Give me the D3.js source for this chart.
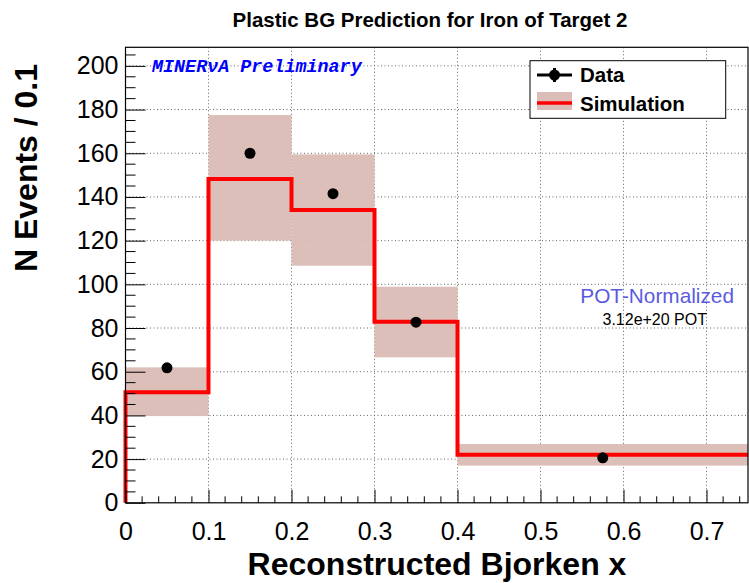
<!DOCTYPE html>
<html>
<head>
<meta charset="utf-8">
<script src="https://cdn.jsdelivr.net/npm/d3@7"></script>
<style>
  html, body { margin: 0; padding: 0; background: #fff; }
  svg { display: block; font-family: "Liberation Sans", Arial, Helvetica, sans-serif; }
</style>
</head>
<body>
<svg id="chart" width="749" height="583"></svg>
<script>
// Bin edges of reconstructed Bjorken x
const binEdges = [0, 0.1, 0.2, 0.3, 0.4, 0.75];
// Data: event counts per bin (drawn at bin centres)
const dataCenters = [0.05, 0.15, 0.25, 0.35, 0.575];
const dataValues = [61.8, 160.0, 141.5, 82.7, 20.6];
// Simulation: central prediction and systematic band limits
const simValues = [50.6, 148.2, 134.0, 82.9, 22.0];
const simBandLow = [39.7, 120.0, 108.5, 66.6, 17.0];
const simBandHigh = [62.0, 177.5, 159.5, 98.9, 26.9];
// Axis ticks
const xTicks = [0, 0.1, 0.2, 0.3, 0.4, 0.5, 0.6, 0.7];
const yTicks = [0, 20, 40, 60, 80, 100, 120, 140, 160, 180, 200];

const svg = d3.select("#chart");
const frame = { left: 125.5, right: 748, top: 47.3, bottom: 502.8 };

const x = d3.scaleLinear().domain([0, 0.75]).range([frame.left, frame.right]);
const y = d3.scaleLinear().domain([0, 208.5]).range([frame.bottom, frame.top]);

// grid
const grid = svg.append("g").attr("stroke", "#666").attr("stroke-width", 1)
  .attr("stroke-dasharray", "1,2.5");
xTicks.filter(d => d > 0).forEach(d => {
  grid.append("line").attr("x1", x(d)).attr("x2", x(d))
    .attr("y1", frame.top).attr("y2", frame.bottom);
});
yTicks.filter(d => d > 0).forEach(d => {
  grid.append("line").attr("x1", frame.left).attr("x2", frame.right)
    .attr("y1", y(d)).attr("y2", y(d));
});

// simulation uncertainty band
const bandColor = "#dbbcb6";
const bins = d3.range(simValues.length).map(i => ({
  x0: binEdges[i], x1: binEdges[i + 1],
  v: simValues[i], lo: simBandLow[i], hi: simBandHigh[i]
}));
svg.append("g").selectAll("rect").data(bins).join("rect")
  .attr("x", d => x(d.x0))
  .attr("width", d => x(d.x1) - x(d.x0))
  .attr("y", d => y(d.hi))
  .attr("height", d => y(d.lo) - y(d.hi))
  .attr("fill", bandColor)
  .attr("fill-opacity", 0.95);

// simulation histogram outline (step)
const stepPts = [[binEdges[0], 0]];
bins.forEach(b => { stepPts.push([b.x0, b.v]); stepPts.push([b.x1, b.v]); });
svg.append("path")
  .attr("d", d3.line().x(d => x(d[0])).y(d => y(d[1]))(stepPts))
  .attr("fill", "none").attr("stroke", "#ff0000").attr("stroke-width", 4)
  .attr("stroke-linejoin", "miter");

// data points
svg.append("g").selectAll("circle").data(dataValues).join("circle")
  .attr("cx", (d, i) => x(dataCenters[i]))
  .attr("cy", d => y(d))
  .attr("r", 5.5)
  .attr("fill", "#000");

// frame
svg.append("rect").attr("x", frame.left).attr("y", frame.top)
  .attr("width", frame.right - frame.left).attr("height", frame.bottom - frame.top)
  .attr("fill", "none").attr("stroke", "#000").attr("stroke-width", 1.2);

// x axis ticks
const xAxis = d3.axisBottom(x).tickValues(xTicks)
  .tickFormat(d => d === 0 ? "0" : d3.format(".1f")(d))
  .tickSize(-13).tickSizeOuter(0).tickPadding(19);
const gx = svg.append("g").attr("transform", `translate(0,${frame.bottom})`).call(xAxis);
gx.select(".domain").remove();
gx.selectAll("text").attr("font-size", 25).attr("fill", "#000")
  .attr("font-family", "'Liberation Sans', Arial, sans-serif");
gx.selectAll("line").attr("stroke", "#000");
const xMinor = d3.range(0, 0.7501, 0.02).filter(v => Math.abs(v * 10 - Math.round(v * 10)) > 1e-6);
svg.append("g").selectAll("line").data(xMinor).join("line")
  .attr("x1", d => x(d)).attr("x2", d => x(d))
  .attr("y1", frame.bottom).attr("y2", frame.bottom - 6.5)
  .attr("stroke", "#000");

// y axis ticks
const yAxis = d3.axisLeft(y).tickValues(yTicks)
  .tickSize(-20).tickSizeOuter(0).tickPadding(7);
const gy = svg.append("g").attr("transform", `translate(${frame.left},0)`).call(yAxis);
gy.select(".domain").remove();
gy.selectAll("text").attr("font-size", 25).attr("fill", "#000")
  .attr("font-family", "'Liberation Sans', Arial, sans-serif");
gy.selectAll("line").attr("stroke", "#000");
const yMinor = d3.range(0, 208.5, 5).filter(v => v % 20 !== 0);
svg.append("g").selectAll("line").data(yMinor).join("line")
  .attr("x1", frame.left).attr("x2", frame.left + 10)
  .attr("y1", d => y(d)).attr("y2", d => y(d))
  .attr("stroke", "#000");

// title
svg.append("text").attr("x", 430).attr("y", 27).attr("text-anchor", "middle")
  .attr("font-size", 20.5).attr("font-weight", "bold").attr("fill", "#000")
  .text("Plastic BG Prediction for Iron of Target 2");

// axis titles
svg.append("text").attr("x", 437).attr("y", 575).attr("text-anchor", "middle")
  .attr("font-size", 32).attr("font-weight", "bold").attr("fill", "#000")
  .text("Reconstructed Bjorken x");
svg.append("text").attr("transform", "translate(37,168) rotate(-90)")
  .attr("text-anchor", "middle")
  .attr("font-size", 32).attr("font-weight", "bold").attr("fill", "#000")
  .text("N Events / 0.1");

// preliminary label
svg.append("text").attr("x", 152).attr("y", 72)
  .attr("font-family", "'Liberation Mono', 'DejaVu Sans Mono', monospace")
  .attr("font-size", 18.4).attr("font-weight", "bold").attr("font-style", "italic")
  .attr("fill", "#0000ff")
  .text("MINERνA Preliminary");

// POT annotations
svg.append("text").attr("x", 734).attr("y", 303).attr("text-anchor", "end")
  .attr("font-size", 20.8).attr("fill", "#5a5ae0")
  .text("POT-Normalized");
svg.append("text").attr("x", 707).attr("y", 325).attr("text-anchor", "end")
  .attr("font-size", 16).attr("fill", "#000")
  .text("3.12e+20 POT");

// legend
const lg = svg.append("g");
lg.append("rect").attr("x", 530).attr("y", 60.7).attr("width", 195.7).attr("height", 57.6)
  .attr("fill", "#fff").attr("stroke", "#000").attr("stroke-width", 1);
// data entry
lg.append("line").attr("x1", 537).attr("x2", 572).attr("y1", 75).attr("y2", 75)
  .attr("stroke", "#000").attr("stroke-width", 3);
lg.append("line").attr("x1", 554.5).attr("x2", 554.5).attr("y1", 68).attr("y2", 82)
  .attr("stroke", "#000").attr("stroke-width", 3);
lg.append("circle").attr("cx", 554.5).attr("cy", 75).attr("r", 5.5).attr("fill", "#000");
lg.append("text").attr("x", 580).attr("y", 82).attr("font-size", 20.5)
  .attr("font-weight", "bold").attr("fill", "#000").text("Data");
// simulation entry
lg.append("rect").attr("x", 537).attr("y", 92).attr("width", 35).attr("height", 18)
  .attr("fill", bandColor);
lg.append("line").attr("x1", 537).attr("x2", 572).attr("y1", 103).attr("y2", 103)
  .attr("stroke", "#ff0000").attr("stroke-width", 3.5);
lg.append("text").attr("x", 580).attr("y", 111).attr("font-size", 20.5)
  .attr("font-weight", "bold").attr("fill", "#000").text("Simulation");
</script>
</body>
</html>
